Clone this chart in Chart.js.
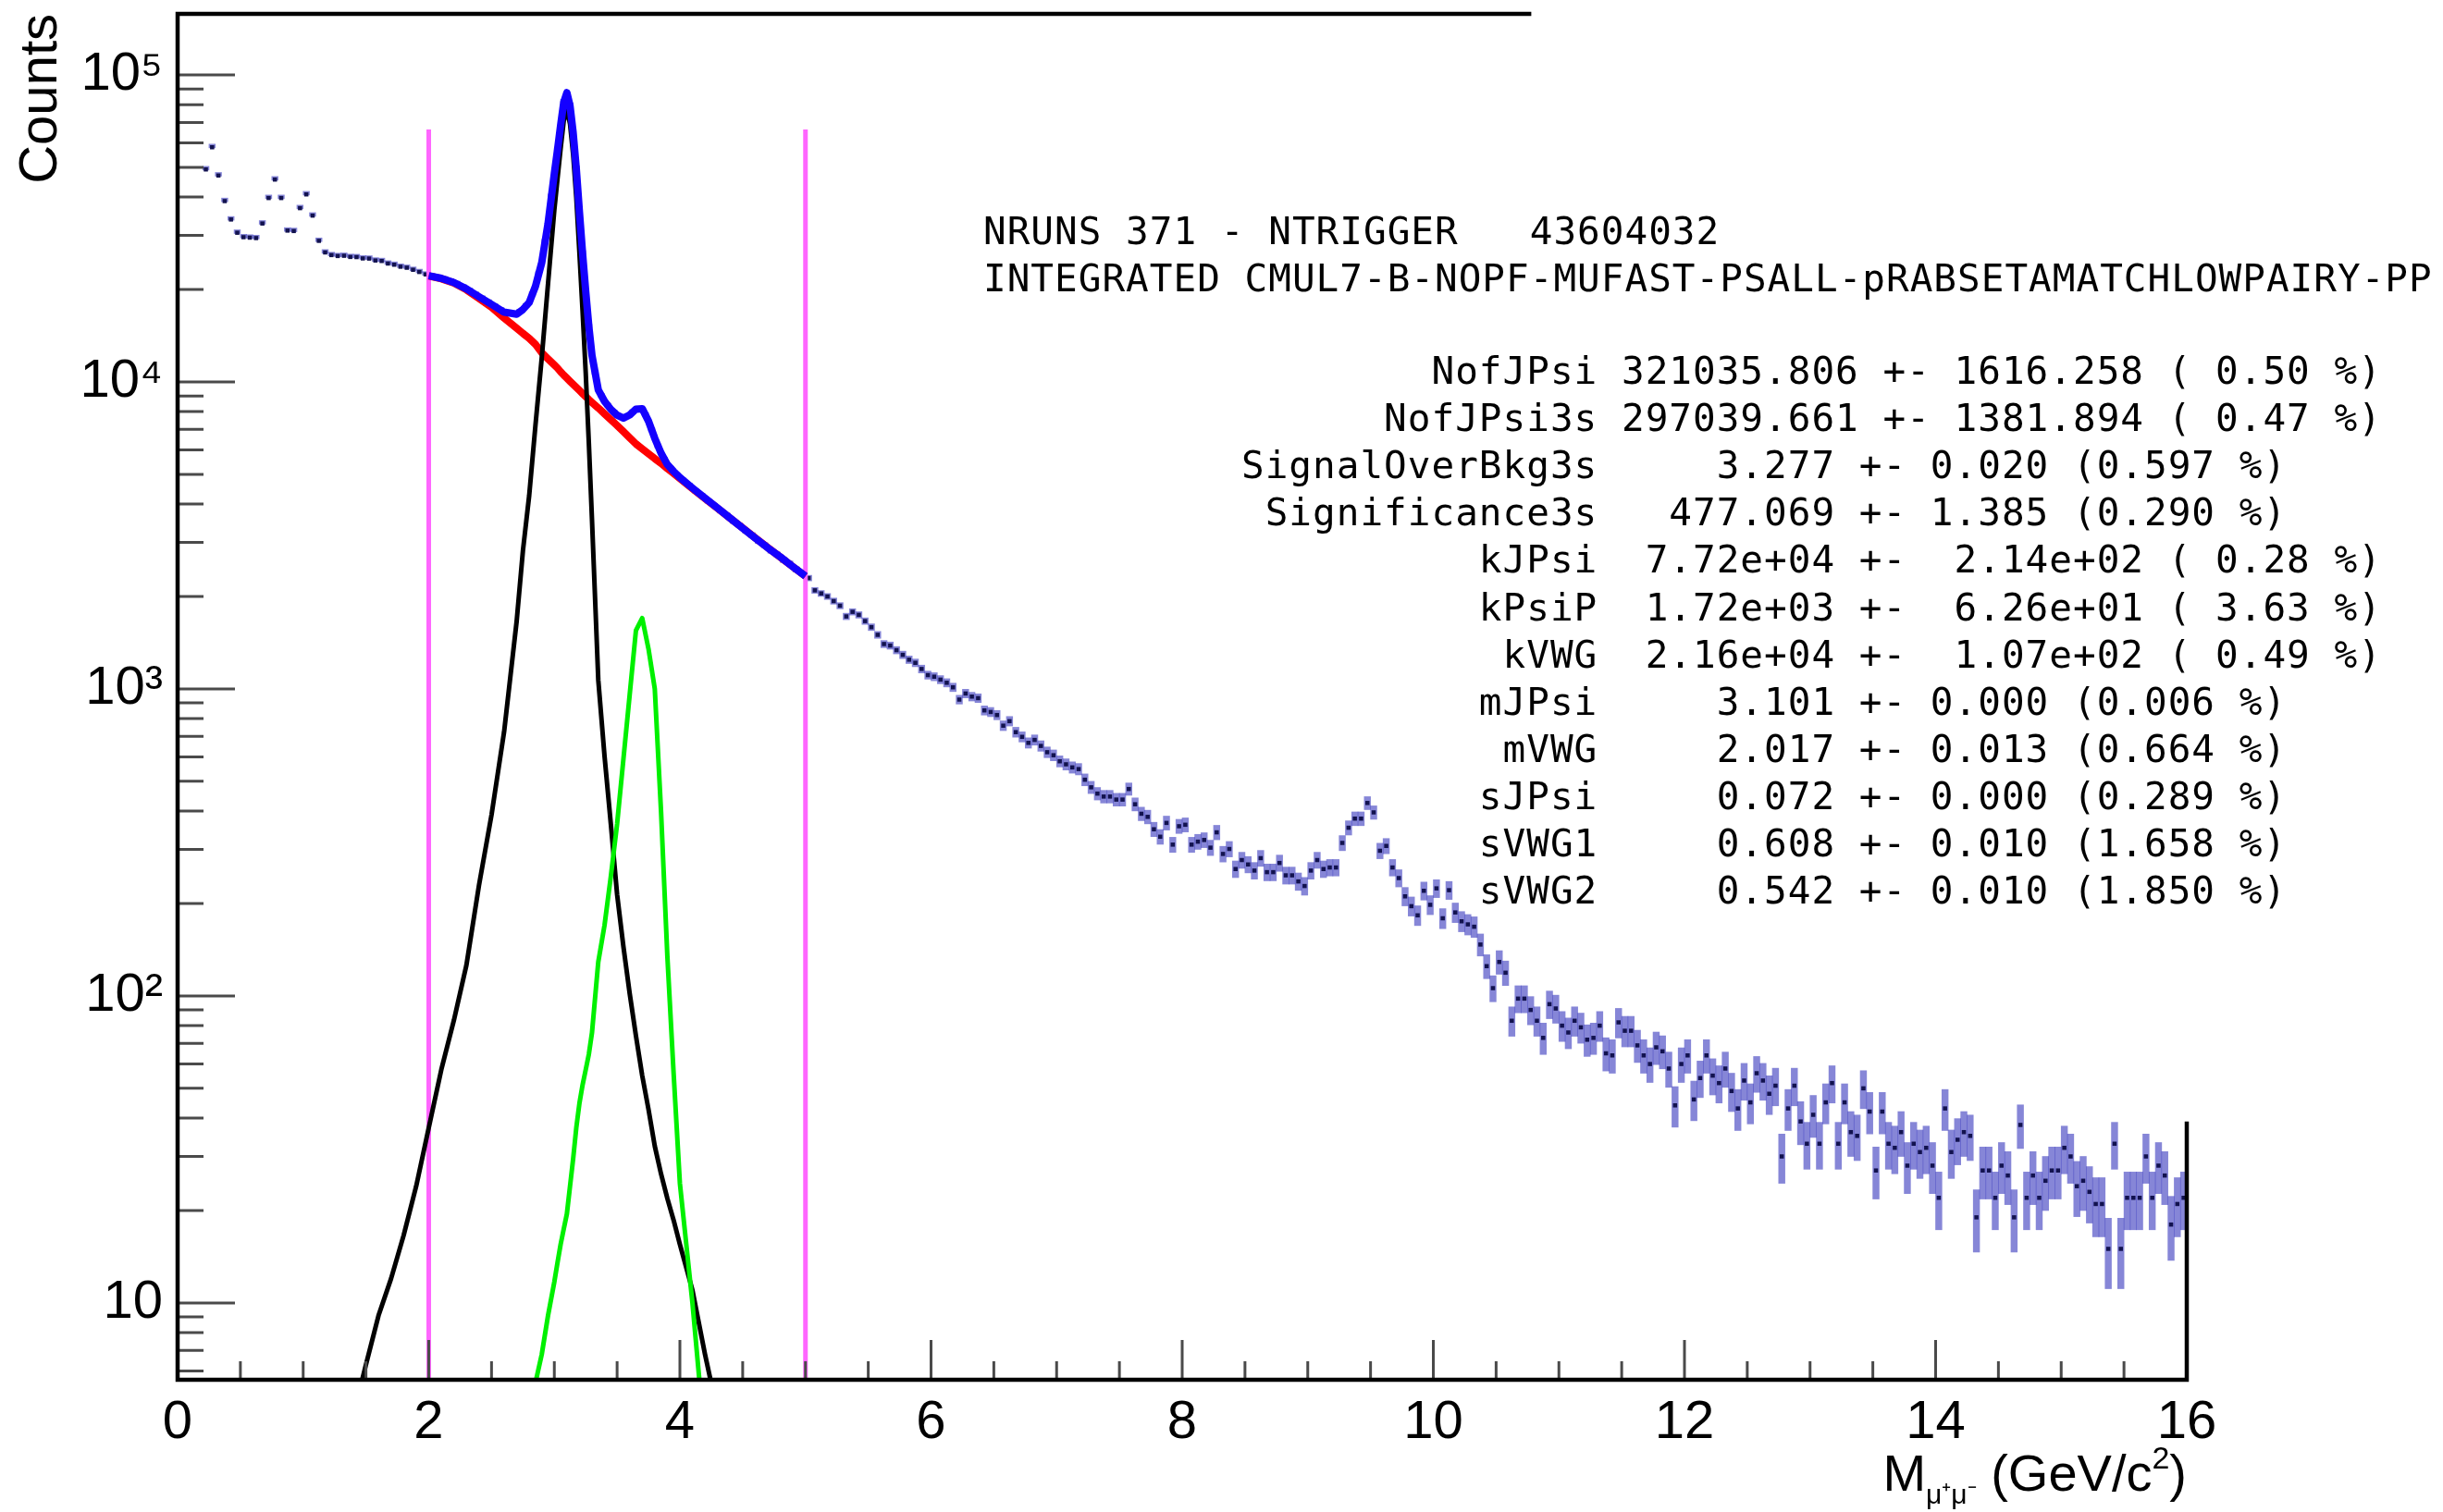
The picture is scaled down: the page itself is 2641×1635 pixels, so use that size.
<!DOCTYPE html>
<html lang="en">
<head>
    <meta charset="UTF-8">
    <title>Dimuon invariant mass</title>
    <script src="https://cdn.jsdelivr.net/npm/chart.js"></script>
    <style>
        html, body { margin: 0; padding: 0; background: #fff; overflow: hidden; }
        canvas { display: block; }
    </style>
</head>
<body>
    <canvas id="massChart" width="2641" height="1635"></canvas>
    <script>
// histogram binning, GeV/c^2
const binLow = 0.2;
const binWidth = 0.05;

// counts per 50 MeV bin, 0.2 -> 16 GeV
const counts = [
    49200, 58100, 47000, 38800, 33800, 30600, 29600, 29500, 29400, 32800, 39700, 45600, 39700, 31100, 31000, 36800,
    40800, 34800, 28800, 26400, 25880, 25700, 25750, 25520, 25490, 25240, 25210, 24850, 24760, 24290, 24080, 23720, 23540, 23180, 22800, 22390,
    22060, 21850, 21590, 21250, 20850, 20330, 19800, 19230, 18680, 18150, 17630, 17120, 16750, 16600, 16880, 17650, 19250, 22400, 28500, 40000,
    56800, 81300, 79200, 49400, 26200, 15100, 10700, 9000, 8380, 7960, 7700, 7700, 7980, 8200, 7820, 6980, 6180, 5610, 5240, 4990,
    4790, 4610, 4410, 4270, 4090, 3960, 3800, 3680, 3520, 3410, 3270, 3170, 3030, 2940, 2820, 2740, 2630, 2560, 2450, 2390,
    2296, 2094, 2046, 2000, 1932, 1866, 1722, 1782, 1742, 1663, 1589, 1500, 1400, 1384, 1337, 1291, 1245, 1216, 1161, 1109,
    1096, 1072, 1047, 1012, 923, 966, 944, 933, 851, 841, 822, 759, 785, 723, 698, 667, 682, 652, 622, 608,
    581, 568, 555, 548, 506, 478, 456, 446, 446, 436, 436, 472, 421, 392, 383, 349, 330, 366, 311, 357,
    361, 311, 318, 322, 304, 341, 290, 301, 259, 277, 268, 256, 281, 253, 253, 271, 247, 247, 236, 228,
    256, 277, 259, 262, 262, 315, 353, 378, 378, 425, 396, 297, 308, 262, 242, 211, 196, 183, 220, 198,
    224, 179, 221, 187, 175, 171, 168, 147, 125, 106, 129, 119, 83, 98, 98, 90, 83, 73, 94, 91,
    80, 76, 83, 79, 72, 73, 80, 65, 64, 82, 77, 77, 69, 64, 60, 68, 66, 58, 44, 60,
    64, 46, 54, 64, 55, 52, 58, 49, 43, 53, 45, 56, 53, 48, 51, 30, 43, 51, 39, 33,
    41, 33, 45, 52, 33, 45, 36, 35, 50, 42, 27, 42, 33, 32, 36, 28, 33, 31, 32, 28,
    22, 43, 31, 34, 36, 35, 19, 27, 27, 22, 28, 26, 19, 38, 22, 26, 22, 25, 27, 27,
    32, 30, 24, 25, 23, 21, 21, 15, 33, 15, 22, 22, 22, 30, 22, 28, 26, 18, 21, 22
];

// fit curves, sampled along the mass axis
const fitMass = [
    1.40, 1.50, 1.60, 1.70, 1.80, 1.90, 2.00, 2.10, 2.20, 2.30, 2.40, 2.50, 2.60, 2.70,
    2.75, 2.80, 2.85, 2.90, 2.95, 3.00,
    3.025, 3.05, 3.075, 3.10, 3.125, 3.15, 3.175, 3.20, 3.225, 3.25, 3.275, 3.30,
    3.35, 3.40, 3.45, 3.50, 3.55, 3.60, 3.65, 3.70, 3.75, 3.80, 3.85, 3.90, 3.95, 4.00,
    4.10, 4.20, 4.30, 4.40, 4.50, 4.60, 4.70, 4.80, 4.90, 5.00
];
const totalFit = [
    null, null, null, null, null, null, 22170, 21740, 21070, 20080, 18940, 17890, 16870, 16620,
    17210, 18130, 20490, 24480, 32790, 47670,
    56810, 68350, 81330, 87500, 79250, 64800, 49440, 35720, 26200, 19730, 15130, 12190,
    9420, 8640, 8140, 7790, 7620, 7800, 8150, 8180, 7450, 6550, 5860, 5380, 5110, 4880,
    4510, 4180, 3880, 3600, 3340, 3100, 2880, 2690, 2500, 2330
];
const bkgFit = [
    null, null, null, null, null, null, 22131, 21677, 20989, 19953, 18707, 17498, 16144, 14962,
    14388, 13868, 13243, 12445, 11885, 11350,
    11092, 10789, 10520, 10280, 10046, 9817, 9594, 9376, 9162, 8954, 8750, 8570,
    8222, 7870, 7534, 7211, 6887, 6577, 6281, 6053, 5834, 5623, 5433, 5224, 5035, 4842,
    4487, 4169, 3873, 3597, 3342, 3105, 2884, 2685, 2500, 2328
];
const jpsiFit = [
    4.3, 6.3, 9.1, 12.0, 16.6, 24.0, 37.2, 57.5, 83.2, 126, 229, 389, 724, 1660,
    2820, 4270, 7240, 12000, 20900, 36300,
    45700, 57500, 70800, 77200, 69200, 55000, 39800, 26300, 17000, 10700, 6310, 3550,
    1070, 603, 363, 214, 145, 102, 74.1, 55.0, 42.7, 32.4, 26.3, 21.9, 18.6, 15.5,
    11.0, 6.8, 4.4, null, null, null, null, null, null, null
];
const psi2sFit = [
    null, null, null, null, null, null, null, null, null, null, null, null, null, null,
    null, null, 5.5, 6.8, 9.1, 11.7,
    13.5, 15.5, 17.4, 19.5, 24.0, 29.5, 37.2, 44.7, 51.3, 57.5, 64.6, 75.9,
    129, 170, 245, 363, 589, 955, 1550, 1700, 1350, 1000, 398, 135, 56, 24.5,
    10, 3.5, null, null, null, null, null, null, null, null
];

// fit range markers
const cutMass = [2, 5];
const cutTop = 66400;

// axes
const xMin = 0, xMax = 16;
const yMin = 5.62, yMax = 158000;
const xTickValues = [0, 2, 4, 6, 8, 10, 12, 14, 16];
const yTickValues = [10, 100, 1000, 10000, 100000];
const yTickLabels = ['10', '10²', '10³', '10⁴', '10⁵'];

// text box
const infoHeader = [
    'NRUNS 371 - NTRIGGER   43604032',
    'INTEGRATED CMUL7-B-NOPF-MUFAST-PSALL-pRABSETAMATCHLOWPAIRY-PP'
];
const paramNames = ['NofJPsi', 'NofJPsi3s', 'SignalOverBkg3s', 'Significance3s', 'kJPsi', 'kPsiP',
    'kVWG', 'mJPsi', 'mVWG', 'sJPsi', 'sVWG1', 'sVWG2'];
const paramValues = [
    ' 321035.806 +- 1616.258 ( 0.50 %)',
    ' 297039.661 +- 1381.894 ( 0.47 %)',
    '     3.277 +- 0.020 (0.597 %)',
    '   477.069 +- 1.385 (0.290 %)',
    '  7.72e+04 +-  2.14e+02 ( 0.28 %)',
    '  1.72e+03 +-  6.26e+01 ( 3.63 %)',
    '  2.16e+04 +-  1.07e+02 ( 0.49 %)',
    '     3.101 +- 0.000 (0.006 %)',
    '     2.017 +- 0.013 (0.664 %)',
    '     0.072 +- 0.000 (0.289 %)',
    '     0.608 +- 0.010 (1.658 %)',
    '     0.542 +- 0.010 (1.850 %)'
];

const sansFont = '"Liberation Sans", Arial, Helvetica, sans-serif';
const monoFont = '"DejaVu Sans Mono", monospace';

const binCenters = counts.map((c, i) => +(binLow + binWidth * (i + 0.5)).toFixed(3));
const errBoxes = counts.map((c, i) => ({ x: binCenters[i], y: [c - Math.sqrt(c), c + Math.sqrt(c)] }));
const dataPoints = counts.map((c, i) => ({ x: binCenters[i], y: c }));

function curve(values) {
    return fitMass.map((m, i) => ({ x: m, y: values[i] })).filter(p => p.y !== null);
}

function fitLine(values, color, width, order) {
    return {
        type: 'line', data: curve(values), borderColor: color, borderWidth: width,
        pointRadius: 0, tension: 0, fill: false, order: order, clip: 0,
        borderJoinStyle: 'round'
    };
}

// ROOT style frame: ticks inside, top/right edge partly hidden by the text pave
const axisFrame = {
    id: 'axisFrame',
    afterDatasetsDraw(chart) {
        const { ctx, chartArea: a, scales: { x, y } } = chart;
        ctx.save();
        ctx.strokeStyle = '#4a4a4a';
        ctx.lineWidth = 3;
        ctx.beginPath();
        for (let v = xMin; v <= xMax + 1e-9; v += 0.5) {
            const px = x.getPixelForValue(v);
            const len = Math.abs(v % 2) < 1e-9 ? 43 : 20;
            ctx.moveTo(px, a.bottom);
            ctx.lineTo(px, a.bottom - len);
        }
        for (let e = 0; e <= 5; e++) {
            for (let k = 1; k <= 9; k++) {
                const v = k * Math.pow(10, e);
                if (v < yMin || v > yMax) continue;
                const py = y.getPixelForValue(v);
                ctx.moveTo(a.left, py);
                ctx.lineTo(a.left + (k === 1 ? 62 : 28), py);
            }
        }
        ctx.stroke();

        ctx.strokeStyle = '#000';
        ctx.lineWidth = 4.5;
        ctx.beginPath();
        ctx.moveTo(x.getPixelForValue(10.78), a.top);
        ctx.lineTo(a.left, a.top);
        ctx.lineTo(a.left, a.bottom);
        ctx.lineTo(a.right, a.bottom);
        ctx.lineTo(a.right, y.getPixelForValue(39));
        ctx.stroke();
        ctx.restore();
    }
};

const labels = {
    id: 'labels',
    afterDraw(chart) {
        const { ctx, chartArea: a } = chart;
        ctx.save();
        ctx.fillStyle = '#000';
        ctx.textBaseline = 'alphabetic';

        // x axis title, right aligned
        const base = 1612;
        const parts = [
            { t: 'M', size: 56, dy: 0 },
            { t: 'μ⁺μ⁻', size: 30, dy: 14 },
            { t: ' (GeV/c', size: 56, dy: 0 },
            { t: '2', size: 34, dy: -24 },
            { t: ')', size: 56, dy: 0 }
        ];
        let total = 0;
        parts.forEach(p => { ctx.font = p.size + 'px ' + sansFont; p.w = ctx.measureText(p.t).width; total += p.w; });
        let px = a.right - total;
        parts.forEach(p => {
            ctx.font = p.size + 'px ' + sansFont;
            ctx.fillText(p.t, px, base + p.dy);
            px += p.w;
        });

        // fit results
        ctx.font = '41px ' + monoFont;
        ctx.letterSpacing = '1px';
        ctx.fillText(infoHeader[0], 1063, 264);
        ctx.fillText(infoHeader[1], 1063, 315);
        paramNames.forEach((name, i) => {
            ctx.fillText(name.padStart(15, ' ') + paramValues[i], 1342, 415 + 51.1 * i);
        });
        ctx.restore();
    }
};

new Chart(document.getElementById('massChart'), {
    type: 'scatter',
    data: {
        datasets: [
            fitLine(totalFit, '#1400ff', 8, 0),
            fitLine(psi2sFit, '#00f000', 5, 1),
            fitLine(jpsiFit, '#000000', 5, 2),
            fitLine(bkgFit, '#ff0000', 8, 3),
            {
                type: 'line', data: [{ x: cutMass[0], y: yMin }, { x: cutMass[0], y: cutTop }],
                borderColor: '#ff66ff', borderWidth: 5, pointRadius: 0, order: 4, clip: 0
            },
            {
                type: 'line', data: [{ x: cutMass[1], y: yMin }, { x: cutMass[1], y: cutTop }],
                borderColor: '#ff66ff', borderWidth: 5, pointRadius: 0, order: 4, clip: 0
            },
            {
                type: 'scatter', data: dataPoints, pointStyle: 'rect', pointRadius: 3.2,
                pointBackgroundColor: '#12124f', pointBorderWidth: 0, order: 5
            },
            {
                type: 'bar', data: errBoxes, backgroundColor: 'rgba(60, 60, 190, 0.62)',
                borderWidth: 0, categoryPercentage: 1, barPercentage: 1, grouped: false,
                minBarLength: 4, order: 6
            }
        ]
    },
    options: {
        responsive: false,
        animation: false,
        devicePixelRatio: 1,
        events: [],
        layout: { padding: { top: 15, right: 277, left: 0, bottom: 0 } },
        plugins: { legend: { display: false }, tooltip: { enabled: false } },
        scales: {
            x: {
                type: 'linear', min: xMin, max: xMax, offset: false,
                grid: { display: false, drawTicks: false },
                border: { display: false },
                afterFit: s => { s.height = 143; s.paddingLeft = 0; s.paddingRight = 0; },
                afterBuildTicks: s => { s.ticks = xTickValues.map(v => ({ value: v })); },
                ticks: {
                    autoSkip: false, maxRotation: 0, padding: 12, color: '#000',
                    font: { family: sansFont, size: 58 },
                    callback: v => String(v)
                }
            },
            y: {
                type: 'logarithmic', min: yMin, max: yMax,
                grid: { display: false, drawTicks: false },
                border: { display: false },
                afterFit: s => { s.width = 192; s.paddingTop = 0; s.paddingBottom = 0; },
                afterBuildTicks: s => { s.ticks = yTickValues.map(v => ({ value: v })); },
                ticks: {
                    autoSkip: false, padding: 16, color: '#000',
                    font: { family: sansFont, size: 58 },
                    callback: v => yTickLabels[yTickValues.indexOf(v)] || ''
                },
                title: {
                    display: true, text: 'Counts', align: 'end', color: '#000',
                    font: { family: sansFont, size: 58 },
                    padding: { top: 10, bottom: 0 }
                }
            }
        }
    },
    plugins: [axisFrame, labels]
});
    </script>
</body>
</html>
